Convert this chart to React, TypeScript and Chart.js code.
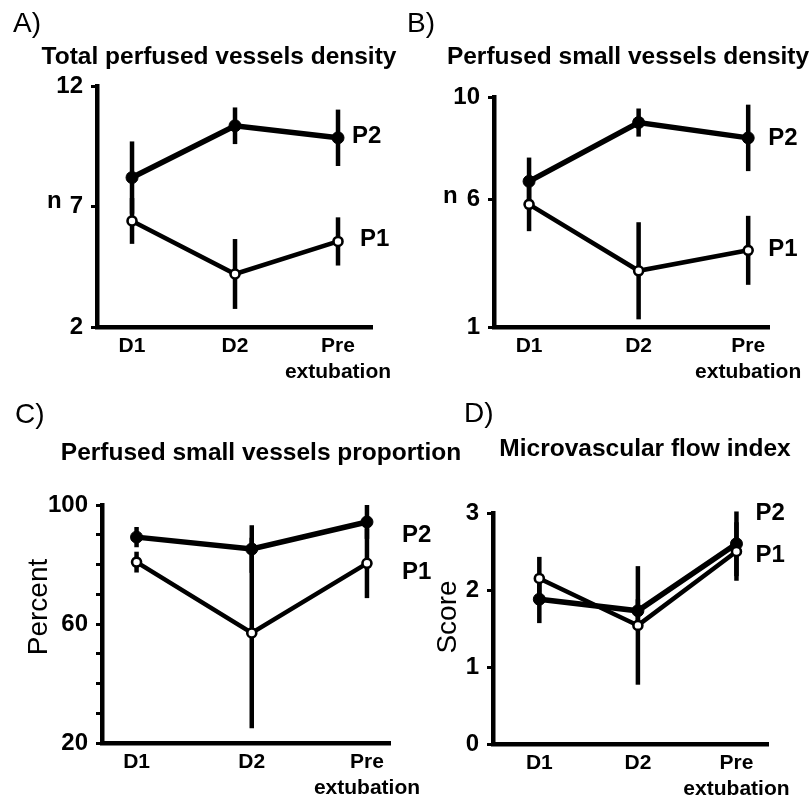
import React, { useEffect, useRef } from 'react';
import { Chart, registerables } from 'chart.js';

Chart.register(...registerables);

// ---------- data ----------
const categories: (string | string[])[] = ['D1', 'D2', ['Pre', 'extubation']];
const seriesNames = ['P1', 'P2'];

// A) Total perfused vessels density
const aP1 = [6.4, 4.2, 5.55];
const aP1Err = [0.95, 1.45, 1.0];
const aP2 = [8.2, 10.35, 9.85];
const aP2Err = [1.5, 0.76, 1.17];
const aTicks = [2, 7, 12];

// B) Perfused small vessels density
const bP1 = [5.8, 3.2, 4.0];
const bP1Err = [1.05, 1.9, 1.35];
const bP2 = [6.7, 9.0, 8.4];
const bP2Err = [0.93, 0.55, 1.3];
const bTicks = [1, 6, 10];

// C) Perfused small vessels proportion
const cP1 = [80.8, 57, 80.4];
const cP1Err = [3.5, 32, 11.7];
const cP2 = [89.2, 85.2, 94.3];
const cP2Err = [3.4, 8, 5.7];
const cTicks = [20, 60, 100];
const cMinorTicks = [30, 40, 50, 70, 80, 90];

// D) Microvascular flow index
const dP1 = [2.15, 1.54, 2.5];
const dP1Err = [0.28, 0.77, 0.38];
const dP2 = [1.88, 1.73, 2.6];
const dP2Err = [0.31, 0.15, 0.42];
const dTicks = [0, 1, 2, 3];

// ---------- layout ----------
const FONT = '"Liberation Sans", Arial, Helvetica, sans-serif';
const W = 812;
const H = 801;

type PanelDef = {
  p1: number[]; p1Err: number[]; p2: number[]; p2Err: number[];
  yMin: number; yMax: number; majorTicks: number[]; minorTicks: number[];
  xMin: number; xMax: number;
  area: { left: number; top: number; right: number; bottom: number };
  letter: { text: string; x: number; y: number };
  title: { text: string; x: number; y: number };
  yTitle: { text: string; x: number; y: number; rotated: boolean };
  labelDx: number[]; labelY: number[];
};

const panels: PanelDef[] = [
  {
    p1: aP1, p1Err: aP1Err, p2: aP2, p2Err: aP2Err,
    yMin: 2, yMax: 12, majorTicks: aTicks, minorTicks: [],
    xMin: -0.34, xMax: 2.33,
    area: { left: 97, top: 86, right: 372, bottom: 327 },
    letter: { text: 'A)', x: 13, y: 32 },
    title: { text: 'Total perfused vessels density', x: 219, y: 64 },
    yTitle: { text: 'n', x: 47, y: 208, rotated: false },
    labelDx: [22, 14], labelY: [5.65, 9.93],
  },
  {
    p1: bP1, p1Err: bP1Err, p2: bP2, p2Err: bP2Err,
    yMin: 1, yMax: 10, majorTicks: bTicks, minorTicks: [],
    xMin: -0.32, xMax: 2.19,
    area: { left: 494, top: 97, right: 769, bottom: 327 },
    letter: { text: 'B)', x: 407, y: 32 },
    title: { text: 'Perfused small vessels density', x: 628, y: 64 },
    yTitle: { text: 'n', x: 443, y: 203, rotated: false },
    labelDx: [20, 20], labelY: [4.05, 8.39],
  },
  {
    p1: cP1, p1Err: cP1Err, p2: cP2, p2Err: cP2Err,
    yMin: 20, yMax: 100, majorTicks: cTicks, minorTicks: cMinorTicks,
    xMin: -0.3, xMax: 2.2,
    area: { left: 102, top: 505, right: 390, bottom: 743 },
    letter: { text: 'C)', x: 15, y: 423 },
    title: { text: 'Perfused small vessels proportion', x: 261, y: 460 },
    yTitle: { text: 'Percent', x: 47, y: 607, rotated: true },
    labelDx: [35, 35], labelY: [77.3, 89.9],
  },
  {
    p1: dP1, p1Err: dP1Err, p2: dP2, p2Err: dP2Err,
    yMin: 0, yMax: 3, majorTicks: dTicks, minorTicks: [],
    xMin: -0.47, xMax: 2.32,
    area: { left: 493, top: 513, right: 768, bottom: 744 },
    letter: { text: 'D)', x: 464, y: 422 },
    title: { text: 'Microvascular flow index', x: 645, y: 456 },
    yTitle: { text: 'Score', x: 456, y: 617, rotated: true },
    labelDx: [19, 19], labelY: [2.45, 2.99],
  },
];

function makeAnnotate(panel: PanelDef) {
  return {
    id: 'annotate',
    beforeDatasetsDraw(chart: any) {
      const { ctx } = chart;
      const xs = chart.scales.x;
      const ys = chart.scales.y;
      ctx.save();
      ctx.strokeStyle = '#000';
      ctx.lineWidth = 4.5;
      ctx.lineCap = 'butt';
      chart.data.datasets.forEach((ds: any) => {
        const errs: number[] = ds.errorBars || [];
        ds.data.forEach((pt: any, i: number) => {
          const e = errs[i] || 0;
          const px = xs.getPixelForValue(pt.x);
          ctx.beginPath();
          ctx.moveTo(px, ys.getPixelForValue(pt.y + e));
          ctx.lineTo(px, ys.getPixelForValue(pt.y - e));
          ctx.stroke();
        });
      });
      ctx.restore();
    },
    afterDraw(chart: any) {
      const { ctx } = chart;
      const xs = chart.scales.x;
      const ys = chart.scales.y;
      ctx.save();
      ctx.fillStyle = '#000';
      // panel letter
      ctx.font = `28px ${FONT}`;
      ctx.textAlign = 'left';
      ctx.textBaseline = 'alphabetic';
      ctx.fillText(panel.letter.text, panel.letter.x, panel.letter.y);
      // title
      ctx.font = `bold 24.5px ${FONT}`;
      ctx.textAlign = 'center';
      ctx.fillText(panel.title.text, panel.title.x, panel.title.y);
      // y title
      if (panel.yTitle.rotated) {
        ctx.save();
        ctx.translate(panel.yTitle.x, panel.yTitle.y);
        ctx.rotate(-Math.PI / 2);
        ctx.font = `28px ${FONT}`;
        ctx.textAlign = 'center';
        ctx.textBaseline = 'alphabetic';
        ctx.fillText(panel.yTitle.text, 0, 0);
        ctx.restore();
      } else {
        ctx.font = `bold 24px ${FONT}`;
        ctx.textAlign = 'left';
        ctx.fillText(panel.yTitle.text, panel.yTitle.x, panel.yTitle.y);
      }
      // series labels
      ctx.font = `bold 24px ${FONT}`;
      ctx.textAlign = 'left';
      ctx.textBaseline = 'middle';
      const lastX = xs.getPixelForValue(categories.length - 1);
      seriesNames.forEach((name, i) => {
        ctx.fillText(name, lastX + panel.labelDx[i], ys.getPixelForValue(panel.labelY[i]));
      });
      ctx.restore();
    },
  };
}

function PanelChart({ panel }: { panel: PanelDef }) {
  const ref = useRef<HTMLCanvasElement>(null);
  useEffect(() => {
    const canvas = ref.current;
    if (!canvas) return;
    const a = panel.area;
    const Y_W = 70;
    const X_H = 56;
    const allTicks = [...panel.majorTicks, ...panel.minorTicks].sort((p, q) => p - q);
    const chart = new Chart(canvas, {
      type: 'line',
      data: {
        datasets: [
          {
            label: seriesNames[0],
            data: panel.p1.map((v, i) => ({ x: i, y: v })),
            errorBars: panel.p1Err,
            borderColor: '#000',
            borderWidth: 4.5,
            pointRadius: 4.5,
            pointBorderWidth: 2.6,
            pointBackgroundColor: '#fff',
            pointBorderColor: '#000',
            tension: 0,
          } as any,
          {
            label: seriesNames[1],
            data: panel.p2.map((v, i) => ({ x: i, y: v })),
            errorBars: panel.p2Err,
            borderColor: '#000',
            borderWidth: 5.5,
            pointRadius: 6,
            pointBorderWidth: 1,
            pointBackgroundColor: '#000',
            pointBorderColor: '#000',
            tension: 0,
          } as any,
        ],
      },
      options: {
        responsive: false,
        animation: false,
        events: [],
        layout: {
          padding: {
            left: a.left - Y_W,
            top: a.top,
            right: W - a.right,
            bottom: Math.max(0, H - a.bottom - X_H),
          },
        },
        plugins: {
          legend: { display: false },
          tooltip: { enabled: false },
          title: { display: false },
        },
        scales: {
          x: {
            type: 'linear',
            min: panel.xMin,
            max: panel.xMax,
            afterFit: (s: any) => { s.height = X_H; },
            afterBuildTicks: (s: any) => { s.ticks = categories.map((_, i) => ({ value: i })); },
            ticks: {
              callback: (v: any) => categories[v as number] ?? '',
              font: { family: FONT, size: 21, weight: 'bold', lineHeight: 1.2 },
              color: '#000',
              padding: 7,
              maxRotation: 0,
              autoSkip: false,
            },
            grid: { display: false, drawTicks: false },
            border: { display: true, color: '#000', width: 4.5 },
          },
          y: {
            type: 'linear',
            min: panel.yMin,
            max: panel.yMax,
            afterFit: (s: any) => { s.width = Y_W; },
            afterBuildTicks: (s: any) => { s.ticks = allTicks.map((v) => ({ value: v })); },
            ticks: {
              callback: (v: any) => (panel.majorTicks.includes(v) ? String(v) : ''),
              font: { family: FONT, size: 24, weight: 'bold' },
              color: '#000',
              padding: 8,
              autoSkip: false,
            },
            grid: {
              display: true,
              drawOnChartArea: false,
              drawTicks: true,
              tickLength: 6,
              lineWidth: 3,
              color: '#000',
            },
            border: { display: true, color: '#000', width: 4.5 },
          },
        },
      } as any,
      plugins: [makeAnnotate(panel)],
    });
    return () => chart.destroy();
  }, [panel]);
  return (
    <canvas
      ref={ref}
      width={W}
      height={H}
      style={{ position: 'absolute', left: 0, top: 0, width: W, height: H }}
    />
  );
}

export default function App() {
  return (
    <div style={{ position: 'absolute', left: 0, top: 0, width: W, height: H, background: '#fff' }}>
      {panels.map((p, i) => (
        <PanelChart key={i} panel={p} />
      ))}
    </div>
  );
}
